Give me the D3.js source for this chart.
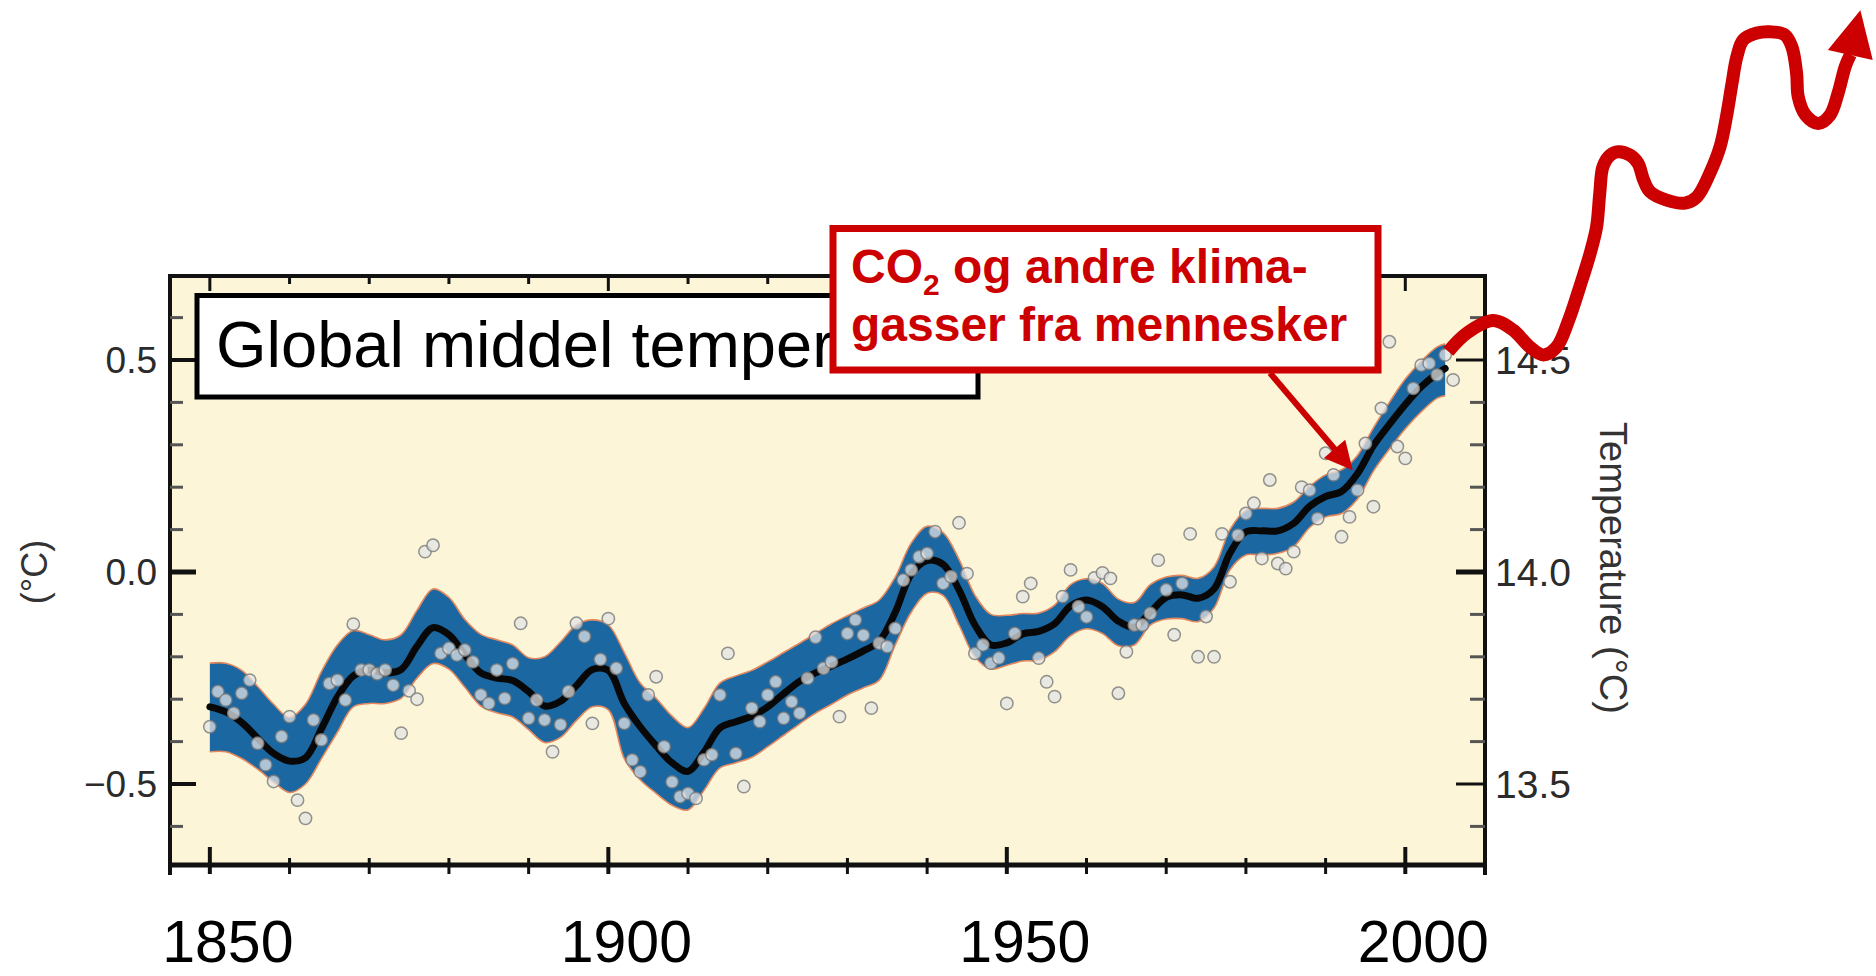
<!DOCTYPE html>
<html>
<head>
<meta charset="utf-8">
<script src="https://cdn.jsdelivr.net/npm/d3@7"></script>
<style>
  body { margin: 0; background: #fff; }
  svg { display: block; font-family: "Liberation Sans", Arial, Helvetica, sans-serif; }
</style>
</head>
<body>
<script>
// yearly anomalies (deg C vs 1961-90), first value is 1850
const firstYear = 1850;
const annual = [
  -0.365, -0.282, -0.302, -0.333, -0.286, -0.255, -0.404, -0.455, -0.494, -0.388,
  -0.341, -0.538, -0.581, -0.349, -0.396, -0.263, -0.255, -0.302, -0.123, -0.231,
  -0.231, -0.240, -0.231, -0.267, -0.380, -0.280, -0.300, 0.048, 0.063, -0.192,
  -0.180, -0.196, -0.184, -0.212, -0.290, -0.310, -0.231, -0.298, -0.216, -0.121,
  -0.345, -0.302, -0.349, -0.424, -0.360, -0.282, -0.121, -0.152, -0.357, -0.206,
  -0.110, -0.227, -0.357, -0.443, -0.471, -0.290, -0.247, -0.412, -0.495, -0.530,
  -0.522, -0.534, -0.443, -0.431, -0.290, -0.192, -0.428, -0.506, -0.321, -0.353,
  -0.290, -0.259, -0.345, -0.306, -0.333, -0.251, -0.154, -0.227, -0.212, -0.341,
  -0.145, -0.113, -0.149, -0.321, -0.168, -0.176, -0.133, -0.019, 0.005, 0.036,
  0.044, 0.095, -0.027, -0.011, 0.116, -0.004, -0.192, -0.172, -0.215, -0.203,
  -0.310, -0.145, -0.058, -0.027, -0.203, -0.259, -0.294, -0.058, 0.005, -0.082,
  -0.106, -0.014, -0.002, -0.015, -0.286, -0.188, -0.125, -0.125, -0.098, 0.028,
  -0.042, -0.148, -0.027, 0.090, -0.200, -0.105, -0.200, 0.090, -0.023, 0.087,
  0.138, 0.162, 0.032, 0.217, 0.020, 0.008, 0.048, 0.200, 0.193, 0.126,
  0.280, 0.229, 0.083, 0.130, 0.193, 0.303, 0.154, 0.386, 0.543, 0.296,
  0.268, 0.433, 0.488, 0.492, 0.465, 0.512, 0.453
];

// smoothed curve and its uncertainty band
const smoothYears = [
  1850, 1852, 1854, 1856, 1858, 1860, 1862, 1864, 1866, 1868,
  1870, 1872, 1874, 1876, 1878, 1880, 1882, 1884, 1886, 1888,
  1890, 1892, 1894, 1896, 1898, 1900, 1902, 1904, 1906, 1908,
  1910, 1912, 1914, 1916, 1918, 1920, 1922, 1924, 1926, 1928,
  1930, 1932, 1934, 1936, 1938, 1940, 1942, 1944, 1946, 1948,
  1950, 1952, 1954, 1956, 1958, 1960, 1962, 1964, 1966, 1968,
  1970, 1972, 1974, 1976, 1978, 1980, 1982, 1984, 1986, 1988,
  1990, 1992, 1994, 1996, 1998, 2000, 2002, 2004, 2005
];
const smoothMean = [
  -0.318, -0.330, -0.355, -0.392, -0.428, -0.446, -0.438, -0.370, -0.295, -0.245,
  -0.231, -0.238, -0.230, -0.175, -0.131, -0.148, -0.195, -0.238, -0.250, -0.256,
  -0.282, -0.316, -0.305, -0.268, -0.230, -0.232, -0.310, -0.365, -0.410, -0.450,
  -0.470, -0.425, -0.368, -0.353, -0.340, -0.318, -0.287, -0.258, -0.238, -0.222,
  -0.205, -0.186, -0.163, -0.095, -0.005, 0.027, 0.018, -0.042, -0.125, -0.172,
  -0.167, -0.146, -0.140, -0.122, -0.080, -0.066, -0.082, -0.116, -0.130, -0.095,
  -0.060, -0.054, -0.062, -0.040, 0.045, 0.095, 0.097, 0.097, 0.115, 0.155,
  0.178, 0.190, 0.232, 0.298, 0.348, 0.395, 0.437, 0.468, 0.480
];
const bandUpper = [
  -0.215, -0.215, -0.232, -0.270, -0.312, -0.343, -0.312, -0.235, -0.172, -0.138,
  -0.148, -0.160, -0.148, -0.090, -0.040, -0.060, -0.112, -0.147, -0.160, -0.172,
  -0.202, -0.200, -0.165, -0.125, -0.113, -0.125, -0.190, -0.262, -0.298, -0.340,
  -0.367, -0.322, -0.262, -0.245, -0.232, -0.212, -0.190, -0.168, -0.145, -0.122,
  -0.103, -0.085, -0.066, -0.012, 0.068, 0.108, 0.093, 0.030, -0.055, -0.100,
  -0.102, -0.098, -0.097, -0.078, -0.030, -0.016, -0.027, -0.064, -0.072, -0.030,
  -0.012, -0.008, -0.015, 0.012, 0.100, 0.145, 0.150, 0.150, 0.165, 0.202,
  0.229, 0.241, 0.275, 0.340, 0.400, 0.455, 0.497, 0.531, 0.538
];
const bandLower = [
  -0.424, -0.424, -0.440, -0.465, -0.495, -0.520, -0.500, -0.440, -0.378, -0.318,
  -0.310, -0.310, -0.298, -0.250, -0.216, -0.229, -0.272, -0.316, -0.332, -0.342,
  -0.372, -0.402, -0.390, -0.350, -0.318, -0.325, -0.440, -0.490, -0.522, -0.550,
  -0.561, -0.515, -0.462, -0.450, -0.437, -0.412, -0.385, -0.358, -0.333, -0.312,
  -0.290, -0.273, -0.255, -0.172, -0.095, -0.050, -0.055, -0.125, -0.200, -0.229,
  -0.220, -0.210, -0.208, -0.188, -0.150, -0.134, -0.145, -0.174, -0.172, -0.125,
  -0.111, -0.110, -0.117, -0.085, 0.005, 0.040, 0.040, 0.044, 0.060, 0.105,
  0.130, 0.138, 0.172, 0.238, 0.290, 0.338, 0.378, 0.410, 0.416
];

// hand-drawn "future" squiggle, in the same year / anomaly units
const futureYears = [
  2005.4, 2007.7, 2011.0, 2013.5, 2015.6, 2017.3, 2019.0, 2020.5, 2021.9, 2023.2,
  2024.0, 2024.4, 2024.8, 2025.7, 2026.7, 2028.2, 2029.2, 2029.9, 2030.7, 2032.8,
  2035.1, 2036.6, 2038.2, 2039.5, 2040.3, 2041.0, 2041.6, 2042.4, 2044.1, 2045.8,
  2047.6, 2048.5, 2049.1, 2049.3, 2050.2, 2051.8, 2053.3, 2054.3, 2055.2, 2055.85
];
const futureTemp = [
  0.520, 0.563, 0.593, 0.571, 0.531, 0.512, 0.531, 0.594, 0.673, 0.752,
  0.814, 0.893, 0.956, 0.983, 0.991, 0.983, 0.964, 0.925, 0.897, 0.877,
  0.870, 0.885, 0.940, 1.003, 1.074, 1.153, 1.215, 1.255, 1.271, 1.274,
  1.267, 1.239, 1.176, 1.121, 1.078, 1.058, 1.078, 1.129, 1.192, 1.2205
];
const futureTip = [2057.1, 1.325];
const arrowTarget = [1993.4, 0.24];

const yearTicks = [1850, 1860, 1870, 1880, 1890, 1900, 1910, 1920, 1930, 1940, 1950, 1960, 1970, 1980, 1990, 2000];
const yearLabels = [1850, 1900, 1950, 2000];
const anomalyTicks = [-0.6, -0.5, -0.4, -0.3, -0.2, -0.1, 0, 0.1, 0.2, 0.3, 0.4, 0.5, 0.6];
const leftLabels = [0.5, 0, -0.5];
const rightLabels = [14.5, 14.0, 13.5];

const W = 1876, H = 976;
const red = "#cc0000";

const svg = d3.select("body").append("svg")
    .attr("width", W)
    .attr("height", H)

const x = d3.scaleLinear().domain([1845, 2010]).range([170, 1485]);
const y = d3.scaleLinear().domain([-0.7, 0.7]).range([868.8, 275.2]);

const plotTop = 276, axisY = 865, plotBottom = 875;

// plot background
svg.append("rect")
    .attr("x", x.range()[0])
    .attr("y", plotTop)
    .attr("width", x.range()[1] - x.range()[0])
    .attr("height", axisY - plotTop)
    .attr("fill", "#fcf5d7")

// band
const band = smoothYears.map((yr, i) => ({ yr, lo: bandLower[i], hi: bandUpper[i], mid: smoothMean[i] }));
svg.append("path")
    .datum(band)
    .attr("d", d3.area()
        .x(d => x(d.yr))
        .y0(d => y(d.lo))
        .y1(d => y(d.hi))
        .curve(d3.curveCatmullRom))
    .attr("fill", "#1a67a1")

;["hi", "lo"].forEach(k => {
    svg.append("path")
        .datum(band)
        .attr("d", d3.line().x(d => x(d.yr)).y(d => y(d[k])).curve(d3.curveCatmullRom))
        .attr("fill", "none")
        .attr("stroke", "#e2875e")
        .attr("stroke-width", 1.6)
})

// smoothed line
svg.append("path")
    .datum(band)
    .attr("d", d3.line().x(d => x(d.yr)).y(d => y(d.mid)).curve(d3.curveCatmullRom))
    .attr("fill", "none")
    .attr("stroke", "#080808")
    .attr("stroke-width", 7)
    .attr("stroke-linecap", "round")

// annual dots
svg.append("g")
    .selectAll("circle")
    .data(annual)
    .enter()
    .append("circle")
    .attr("cx", (d, i) => x(firstYear + i))
    .attr("cy", d => y(d))
    .attr("r", 6.2)
    .attr("fill", "rgba(226,228,230,0.74)")
    .attr("stroke", "rgba(120,120,120,0.8)")
    .attr("stroke-width", 1.5)

// frame
const frame = svg.append("g").attr("stroke", "#111")
frame.append("line").attr("x1", 170).attr("x2", 170).attr("y1", plotTop - 2).attr("y2", plotBottom).attr("stroke-width", 4)
frame.append("line").attr("x1", 1485).attr("x2", 1485).attr("y1", plotTop - 2).attr("y2", plotBottom).attr("stroke-width", 4)
frame.append("line").attr("x1", 168).attr("x2", 1487).attr("y1", plotTop).attr("y2", plotTop).attr("stroke-width", 4)
frame.append("line").attr("x1", 168).attr("x2", 1487).attr("y1", axisY).attr("y2", axisY).attr("stroke-width", 5)

// x ticks (bottom + top)
yearTicks.forEach(yr => {
    const major = yearLabels.includes(yr);
    frame.append("line")
        .attr("x1", x(yr)).attr("x2", x(yr))
        .attr("y1", major ? axisY - 18 : axisY - 7)
        .attr("y2", axisY + 9)
        .attr("stroke-width", major ? 4 : 3)
    frame.append("line")
        .attr("x1", x(yr)).attr("x2", x(yr))
        .attr("y1", plotTop)
        .attr("y2", major ? plotTop + 15 : plotTop + 8)
        .attr("stroke-width", 3)
})

// y ticks both sides
anomalyTicks.forEach(v => {
    const major = leftLabels.some(l => Math.abs(l - v) < 1e-6);
    frame.append("line")
        .attr("x1", 170).attr("x2", major ? 196 : 183)
        .attr("y1", y(v)).attr("y2", y(v))
        .attr("stroke", major ? "#111" : "#555")
        .attr("stroke-width", v === 0 ? 5 : (major ? 4 : 3))
    frame.append("line")
        .attr("x1", 1485).attr("x2", major ? 1456 : 1470)
        .attr("y1", y(v)).attr("y2", y(v))
        .attr("stroke", major ? "#111" : "#555")
        .attr("stroke-width", v === 0 ? 5 : 3)
})

// tick labels
svg.append("g")
    .selectAll("text")
    .data(leftLabels)
    .enter()
    .append("text")
    .attr("x", 157)
    .attr("y", d => y(d) + 13)
    .attr("text-anchor", "end")
    .attr("font-size", 37)
    .attr("fill", "#2b2b2b")
    .text(d => (d < 0 ? "\u2212" : "") + Math.abs(d).toFixed(1))

svg.append("g")
    .selectAll("text")
    .data(rightLabels)
    .enter()
    .append("text")
    .attr("x", 1495)
    .attr("y", d => y(d - 14) + 14)
    .attr("font-size", 39)
    .attr("fill", "#2b2b2b")
    .text(d => d.toFixed(1))

svg.append("g")
    .selectAll("text")
    .data(yearLabels)
    .enter()
    .append("text")
    .attr("x", d => x(d) + 18)
    .attr("y", 962)
    .attr("text-anchor", "middle")
    .attr("font-size", 59)
    .attr("fill", "#000")
    .text(d => d)

// axis titles
svg.append("text")
    .attr("transform", "translate(47," + y(0) + ") rotate(-90)")
    .attr("text-anchor", "middle")
    .attr("font-size", 36)
    .attr("fill", "#333")
    .text("(\u00B0C)")

svg.append("text")
    .attr("transform", "translate(1600," + (y(0) - 4) + ") rotate(90)")
    .attr("text-anchor", "middle")
    .attr("font-size", 38)
    .attr("fill", "#333")
    .text("Temperature (\u00B0C)")

// title box
svg.append("rect")
    .attr("x", 197).attr("y", 295.5)
    .attr("width", 781).attr("height", 101.5)
    .attr("fill", "#fff")
    .attr("stroke", "#000")
    .attr("stroke-width", 5)

svg.append("text")
    .attr("x", 216)
    .attr("y", 367)
    .attr("font-size", 65)
    .attr("fill", "#000")
    .text("Global middel temperatur")

// helper: filled arrow head, returns the point where the shaft should stop
function arrowHead(x1, y1, x2, y2, len, wid) {
    const a = Math.atan2(y2 - y1, x2 - x1);
    const bx = x2 - len * Math.cos(a), by = y2 - len * Math.sin(a);
    const px = -Math.sin(a) * wid / 2, py = Math.cos(a) * wid / 2;
    svg.append("path")
        .attr("d", `M${x2},${y2}L${bx + px},${by + py}L${bx - px},${by - py}Z`)
        .attr("fill", red)
    return [bx + 2 * Math.cos(a), by + 2 * Math.sin(a)];
}

// red annotation box
svg.append("rect")
    .attr("x", 833).attr("y", 228.5)
    .attr("width", 545).attr("height", 141.5)
    .attr("fill", "#fff")
    .attr("stroke", red)
    .attr("stroke-width", 7)

const note = svg.append("text")
    .attr("font-size", 48)
    .attr("font-weight", "bold")
    .attr("fill", red)
const l1 = note.append("tspan").attr("x", 851).attr("y", 283)
l1.append("tspan").text("CO")
l1.append("tspan").attr("font-size", 30).attr("dy", 12).text("2")
l1.append("tspan").attr("dy", -12).text(" og andre klima-")
note.append("tspan").attr("x", 851).attr("y", 341).text("gasser fra mennesker")

// pointer arrow from box
const sx = 1270, sy = 373;
const tx = x(arrowTarget[0]), ty = y(arrowTarget[1]);
const base = arrowHead(sx, sy, tx, ty, 28, 28);
svg.append("line")
    .attr("x1", sx).attr("y1", sy)
    .attr("x2", base[0]).attr("y2", base[1])
    .attr("stroke", red)
    .attr("stroke-width", 6)

// future squiggle
const future = futureYears.map((yr, i) => [x(yr), y(futureTemp[i])]);
svg.append("path")
    .datum(future)
    .attr("d", d3.line().curve(d3.curveCatmullRom))
    .attr("fill", "none")
    .attr("stroke", red)
    .attr("stroke-width", 13)
    .attr("stroke-linejoin", "round")

const last = future[future.length - 1];
arrowHead(last[0], last[1], x(futureTip[0]), y(futureTip[1]), 46, 46);
</script>
</body>
</html>
